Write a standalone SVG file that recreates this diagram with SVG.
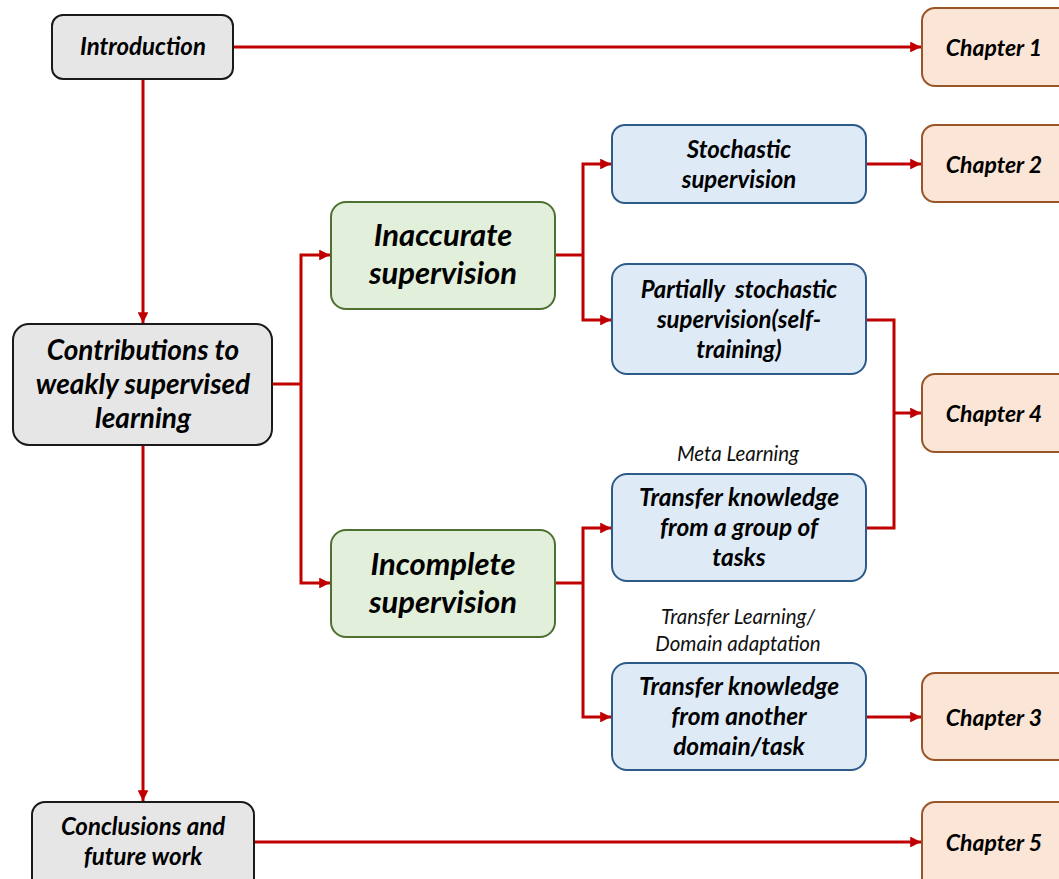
<svg xmlns="http://www.w3.org/2000/svg" width="1059" height="879" viewBox="0 0 1059 879">
<style>
.gray{fill:#E6E6E6;stroke:#1a1a1a;stroke-width:2}
.green{fill:#E2EFDA;stroke:#4E7030;stroke-width:2}
.blue{fill:#DEEBF7;stroke:#2E5A8A;stroke-width:2}
.peach{fill:#FBE5D6;stroke:#9A5526;stroke-width:2}
.t{font-family:Lato,"Liberation Sans",sans-serif;font-weight:bold;font-style:italic;fill:#000;text-anchor:middle}
.lbl{font-family:Lato,"Liberation Sans",sans-serif;font-style:italic;fill:#111;text-anchor:middle;font-size:20.5px}
.c{fill:none;stroke:#C00000;stroke-width:3}
</style>
<defs>
<marker id="ah" viewBox="0 0 10 10" refX="10" refY="5" markerWidth="4" markerHeight="3.6" markerUnits="strokeWidth" orient="auto">
<path d="M0,0 L10,5 L0,10 z" fill="#C00000"/>
</marker>
</defs>
<g id="connectors">
<path class="c" d="M233,47 H921" marker-end="url(#ah)"/>
<path class="c" d="M143,79 V323" marker-end="url(#ah)"/>
<path class="c" d="M143,445 V801" marker-end="url(#ah)"/>
<path class="c" d="M254,842 H921" marker-end="url(#ah)"/>
<path class="c" d="M272,384 H301"/>
<path class="c" d="M301,384 V255 H330" marker-end="url(#ah)"/>
<path class="c" d="M301,384 V583 H330" marker-end="url(#ah)"/>
<path class="c" d="M555,255 H583"/>
<path class="c" d="M583,255 V164 H611" marker-end="url(#ah)"/>
<path class="c" d="M583,255 V320 H611" marker-end="url(#ah)"/>
<path class="c" d="M555,583 H583"/>
<path class="c" d="M583,583 V528 H611" marker-end="url(#ah)"/>
<path class="c" d="M583,583 V717 H611" marker-end="url(#ah)"/>
<path class="c" d="M866,164 H921" marker-end="url(#ah)"/>
<path class="c" d="M866,320 H894 V528 H866"/>
<path class="c" d="M894,413 H921" marker-end="url(#ah)"/>
<path class="c" d="M866,717 H921" marker-end="url(#ah)"/>
</g>
<g id="introduction">
<rect class="gray" x="52" y="15" width="181" height="64" rx="11"/>
<text class="t" x="143" y="55" font-size="24">Introduction</text>
</g>
<g id="contributions">
<rect class="gray" x="13" y="324" width="259" height="121" rx="16"/>
<text class="t" x="143" y="360" font-size="28">Contributions to</text>
<text class="t" x="143" y="394" font-size="28">weakly supervised</text>
<text class="t" x="143" y="428" font-size="28">learning</text>
</g>
<g id="conclusions">
<rect class="gray" x="32" y="802" width="222" height="90" rx="13"/>
<text class="t" x="143" y="835" font-size="24">Conclusions and</text>
<text class="t" x="143" y="865" font-size="24">future work</text>
</g>
<g id="inaccurate">
<rect class="green" x="331" y="202" width="224" height="107" rx="15"/>
<text class="t" x="443" y="246" font-size="31">Inaccurate</text>
<text class="t" x="443" y="284" font-size="31">supervision</text>
</g>
<g id="incomplete">
<rect class="green" x="331" y="530" width="224" height="107" rx="15"/>
<text class="t" x="443" y="575" font-size="31">Incomplete</text>
<text class="t" x="443" y="613" font-size="31">supervision</text>
</g>
<g id="stochastic">
<rect class="blue" x="612" y="125" width="254" height="78" rx="13"/>
<text class="t" x="739" y="158" font-size="24">Stochastic</text>
<text class="t" x="739" y="188" font-size="24">supervision</text>
</g>
<g id="partially">
<rect class="blue" x="612" y="264" width="254" height="110" rx="15"/>
<text class="t" x="739" y="298" font-size="24" xml:space="preserve">Partially  stochastic</text>
<text class="t" x="739" y="328" font-size="24">supervision(self-</text>
<text class="t" x="739" y="358" font-size="24">training)</text>
</g>
<g id="transfer-group">
<text class="lbl" x="738" y="461">Meta Learning</text>
<rect class="blue" x="612" y="474" width="254" height="107" rx="15"/>
<text class="t" x="739" y="506" font-size="24.5">Transfer knowledge</text>
<text class="t" x="739" y="536" font-size="24.5">from a group of</text>
<text class="t" x="739" y="566" font-size="24.5">tasks</text>
</g>
<g id="transfer-domain">
<text class="lbl" x="738" y="624">Transfer Learning/</text>
<text class="lbl" x="738" y="651">Domain adaptation</text>
<rect class="blue" x="612" y="663" width="254" height="107" rx="15"/>
<text class="t" x="739" y="695" font-size="24.5">Transfer knowledge</text>
<text class="t" x="739" y="725" font-size="24.5">from another</text>
<text class="t" x="739" y="755" font-size="24.5">domain/task</text>
</g>
<g id="chapter1">
<rect class="peach" x="922" y="8" width="150" height="78" rx="13"/>
<text class="t" x="994" y="56" font-size="23">Chapter 1</text>
</g>
<g id="chapter2">
<rect class="peach" x="922" y="125" width="150" height="77" rx="13"/>
<text class="t" x="994" y="173" font-size="23">Chapter 2</text>
</g>
<g id="chapter4">
<rect class="peach" x="922" y="374" width="150" height="78" rx="13"/>
<text class="t" x="994" y="422" font-size="23">Chapter 4</text>
</g>
<g id="chapter3">
<rect class="peach" x="922" y="673" width="150" height="87" rx="13"/>
<text class="t" x="994" y="726" font-size="23">Chapter 3</text>
</g>
<g id="chapter5">
<rect class="peach" x="922" y="802" width="150" height="90" rx="13"/>
<text class="t" x="994" y="851" font-size="23">Chapter 5</text>
</g>
</svg>
